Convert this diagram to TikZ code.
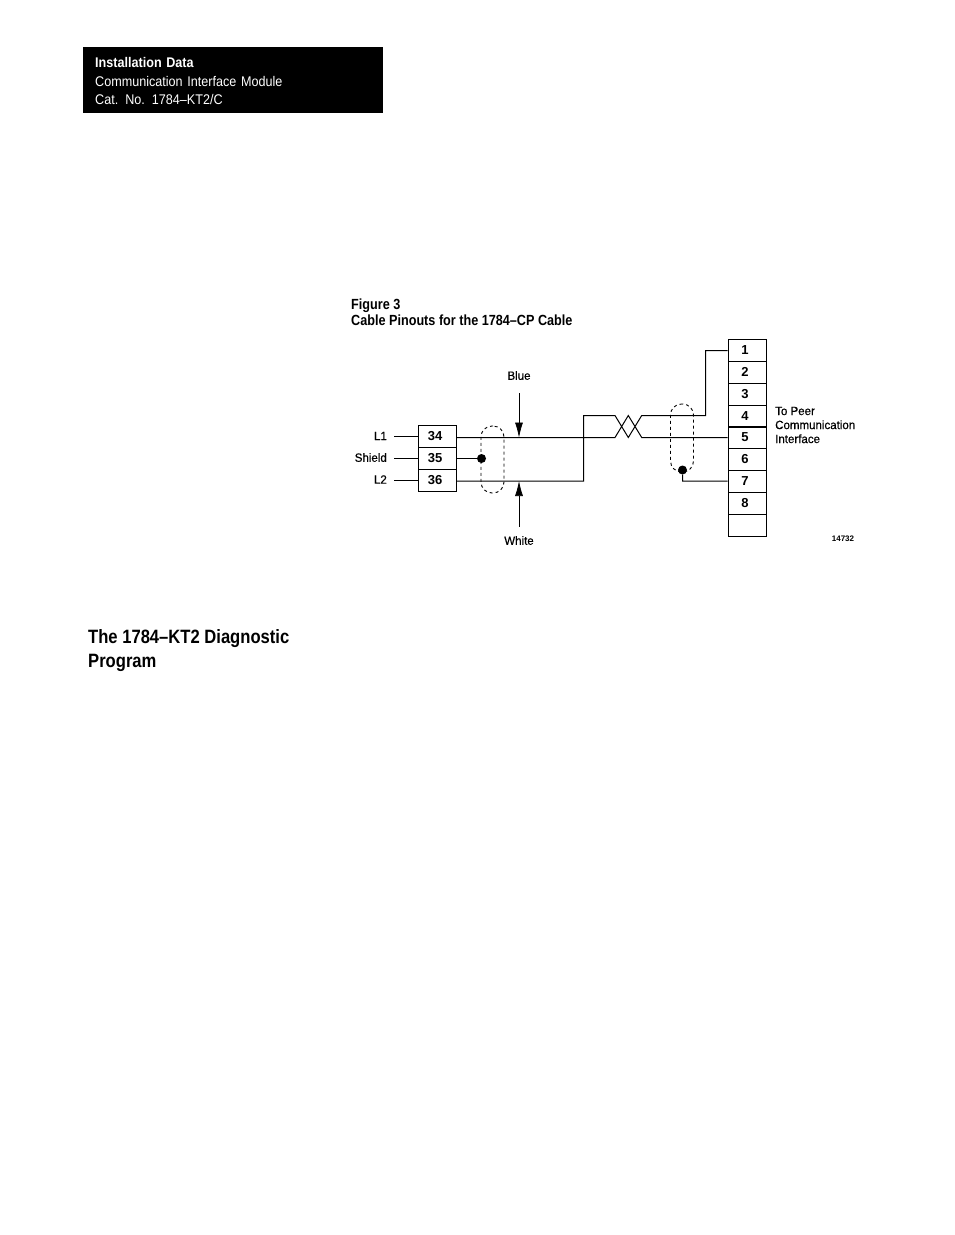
\documentclass[tikz,border=0pt]{standalone}
\usepackage{fontspec}
\setmainfont{Liberation Sans}
\newfontfamily\narrowfont[FakeStretch=0.9, WordSpace=0.6]{Liberation Sans}
\newfontfamily\headfont[FakeStretch=0.86]{Liberation Sans}
\newfontfamily\figfont[FakeStretch=0.96, FakeBold=0.5]{Liberation Sans}
\usetikzlibrary{arrows.meta}
\tikzset{
  cell/.style = {draw, line width=1pt, minimum width=38pt, minimum height=22pt, inner sep=0pt, font=\bfseries\fontsize{13}{15}\selectfont, execute at end node={\kern4pt}},
  wire/.style = {line width=1pt},
  shieldcap/.style = {draw, dashed, line width=0.9pt, rounded corners=11pt, inner sep=0pt, minimum width=23pt},
  dot/.style = {circle, fill=black, inner sep=0pt, minimum size=9pt},
  pinlabel/.style = {anchor=east, inner xsep=7pt, inner ysep=0pt, font=\figfont\fontsize{12}{14}\selectfont},
  pointer/.style = {line width=0.7pt, -{Latex[length=15pt,width=8pt]}},
  figlabel/.style = {inner sep=0pt, font=\figfont\fontsize{12}{14}\selectfont},
  heading/.style = {anchor=west, inner sep=0pt, font=\headfont\bfseries\fontsize{14.7}{16}\selectfont}
}
\begin{document}
\begin{tikzpicture}[x=1pt, y=-1pt]
  \useasboundingbox (0,0) rectangle (954,1235);

  \node[fill=black, text=white, anchor=north west, minimum width=300pt, minimum height=66pt, inner xsep=12pt, inner ysep=0pt, text width=276pt, align=left, font=\narrowfont\fontsize{14}{18.5}\selectfont] (header) at (83,47)
    {\rule{0pt}{4pt}\\[-10pt]\textbf{Installation Data}\\Communication Interface Module\\Cat. No. 1784–KT2/C};

  \node[heading] (figno) at (351,305.5) {Figure 3};
  \node[heading] (figname) at (351,320.5) {Cable Pinouts for the 1784–CP Cable};

  \node[heading, font=\headfont\bfseries\fontsize{19.3}{22}\selectfont] (sect1) at (88,639) {The 1784–KT2 Diagnostic};
  \node[heading, font=\headfont\bfseries\fontsize{19.3}{22}\selectfont] (sect2) at (88,663) {Program};

  % left connector
  \node[cell] (p34) at (437,436.5) {34};
  \node[cell] (p35) at (437,458.5) {35};
  \node[cell] (p36) at (437,480.5) {36};

  \node[pinlabel] (l1) at (394,436) {L1};
  \node[pinlabel] (shield) at (394,457.5) {Shield};
  \node[pinlabel] (l2) at (394,479.5) {L2};

  % right connector
  \node[cell] (j1) at (747,350.5) {1};
  \node[cell] (j2) at (747,372) {2};
  \node[cell] (j3) at (747,394) {3};
  \node[cell] (j4) at (747,416) {4};
  \node[cell] (j5) at (747,437) {5};
  \node[cell] (j6) at (747,459) {6};
  \node[cell] (j7) at (747,481) {7};
  \node[cell] (j8) at (747,503) {8};
  \node[cell] (j9) at (747,525) {};

  \node[figlabel, anchor=west, align=left] (peer) at (775,425) {To Peer\\Communication\\Interface};
  \node[figlabel, font=\bfseries\fontsize{8}{10}\selectfont] (figid) at (843,538.5) {14732};

  \node[shieldcap, minimum height=67pt] (cap1) at (492.5,459.5) {};
  \node[shieldcap, minimum height=68pt] (cap2) at (682,438) {};
  \node[dot] (d1) at (481.5,458.5) {};
  \node[dot] (d2) at (682.5,470) {};

  \coordinate (bend1) at (583.5,437.5);
  \coordinate (bend2) at (583.5,481);
  \coordinate (tw1) at (583.5,415.5);
  \coordinate (tw2) at (615,415.5);
  \coordinate (tw3) at (615,437.5);
  \coordinate (tw4) at (628.3,415.5);
  \coordinate (tw5) at (628.3,437.5);
  \coordinate (tw6) at (641.7,415.5);
  \coordinate (tw7) at (641.7,437.5);
  \coordinate (up1) at (705.5,415.5);
  \coordinate (up2) at (705.5,350.5);
  \coordinate (dn1) at (682.5,481);

  \draw[wire] (l1.east |- p34.west)--(p34.west)
        (shield.east |- p35.west)--(p35.west)
        (l2.east |- p36.west)--(p36.west)
        (p35.east)--(d1);
  \draw[wire] (p34.east |- bend1)--(bend1)
        (p36.east |- bend2)--(bend2)--(tw1)--(tw2)--(tw5)--(tw6)--(up1)--(up2)--(j1.west)
        (bend1)--(tw3)--(tw4)--(tw7)--(j5.west |- tw7)
        (d2)--(dn1)--(j7.west);

  \node[figlabel] (blue) at (519,375.5) {Blue};
  \node[figlabel] (white) at (519,540.5) {White};
  \coordinate (bluetip) at (519,437.5);
  \coordinate (whitetip) at (519,481);
  \draw[pointer] (blue.south)+(0,13) -- (bluetip);
  \draw[pointer] (white.north)+(0,-9) -- (whitetip);
\end{tikzpicture}
\end{document}
